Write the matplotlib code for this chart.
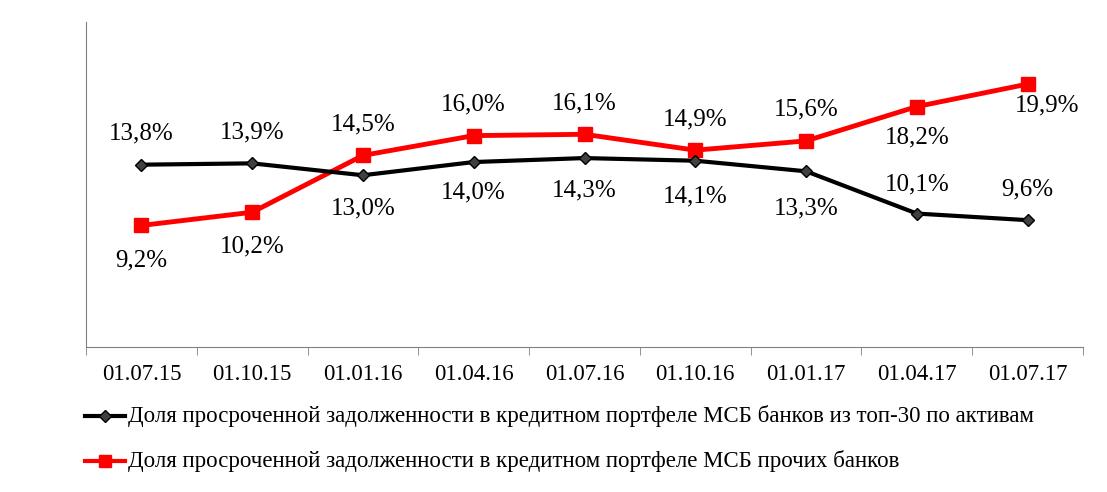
import matplotlib
matplotlib.use("Agg")
import matplotlib.pyplot as plt
from matplotlib.lines import Line2D

categories = ["01.07.15","01.10.15","01.01.16","01.04.16","01.07.16","01.10.16","01.01.17","01.04.17","01.07.17"]
top30 = [13.8,13.9,13.0,14.0,14.3,14.1,13.3,10.1,9.6]
others = [9.2,10.2,14.5,16.0,16.1,14.9,15.6,18.2,19.9]
top30_label = "Доля просроченной задолженности в кредитном портфеле МСБ банков из топ-30 по активам"
others_label = "Доля просроченной задолженности в кредитном портфеле МСБ прочих банков"

# label offsets in pixels (dx, dy), positive dy = up
top30_off = [(0,31),(0,31),(0,-33),(0,-30),(0,-32),(0,-36),(0,-37),(0,29),(0,31)]
others_off = [(0,-35),(0,-34),(0,31),(0,31),(0,31),(0,31),(0,31),(0,-31),(19,-21)]

plt.rcParams["font.family"] = "Liberation Serif"
fig = plt.figure(figsize=(11.07,4.92), dpi=100)
ax = fig.add_axes([86/1107, 1-347/492, 997/1107, 325/492])
x = list(range(len(categories)))
ax.plot(x, top30, color="black", lw=3, marker="D", ms=6, mfc="#404040", mec="black", zorder=3)
ax.plot(x, others, color="#ff0000", lw=3.5, marker="s", ms=10, mfc="#ff0000", mec="#ff0000", zorder=2)
for i in x:
    dx, dy = top30_off[i]
    ax.annotate(f"{top30[i]:.1f}%".replace(".", ","), (i, top30[i]), xytext=(dx*0.72, dy*0.72),
                textcoords="offset points", ha="center", va="center", fontsize=18)
    dx, dy = others_off[i]
    ax.annotate(f"{others[i]:.1f}%".replace(".", ","), (i, others[i]), xytext=(dx*0.72, dy*0.72),
                textcoords="offset points", ha="center", va="center", fontsize=18)
ax.set_xlim(-0.5, len(categories)-0.5)
ax.set_ylim(0, 24.6)
ax.set_yticks([])
ax.set_xticks(x)
ax.set_xticklabels(categories, fontsize=16.5)
ax.set_xticks([i-0.5 for i in range(len(categories)+1)], minor=True)
ax.tick_params(axis="x", which="major", length=0, pad=12)
ax.tick_params(axis="x", which="minor", length=6, color="#808080")
for s in ["top","right"]:
    ax.spines[s].set_visible(False)
for s in ["left","bottom"]:
    ax.spines[s].set_color("#808080")

def leg(y, color, marker, ms, text):
    yf = 1 - y/492
    fig.add_artist(Line2D([85/1107,125/1107],[yf,yf], color=color, lw=3, transform=fig.transFigure))
    fig.add_artist(Line2D([105/1107],[yf], color=color, marker=marker, ms=ms, transform=fig.transFigure, mfc=color if color!="black" else "#404040", mec=color))
    fig.text(128/1107, yf, text, va="center", ha="left", fontsize=16.5)
leg(416, "black", "D", 6, top30_label)
leg(461, "#ff0000", "s", 9, others_label)
fig.savefig("out.png", dpi=100)
